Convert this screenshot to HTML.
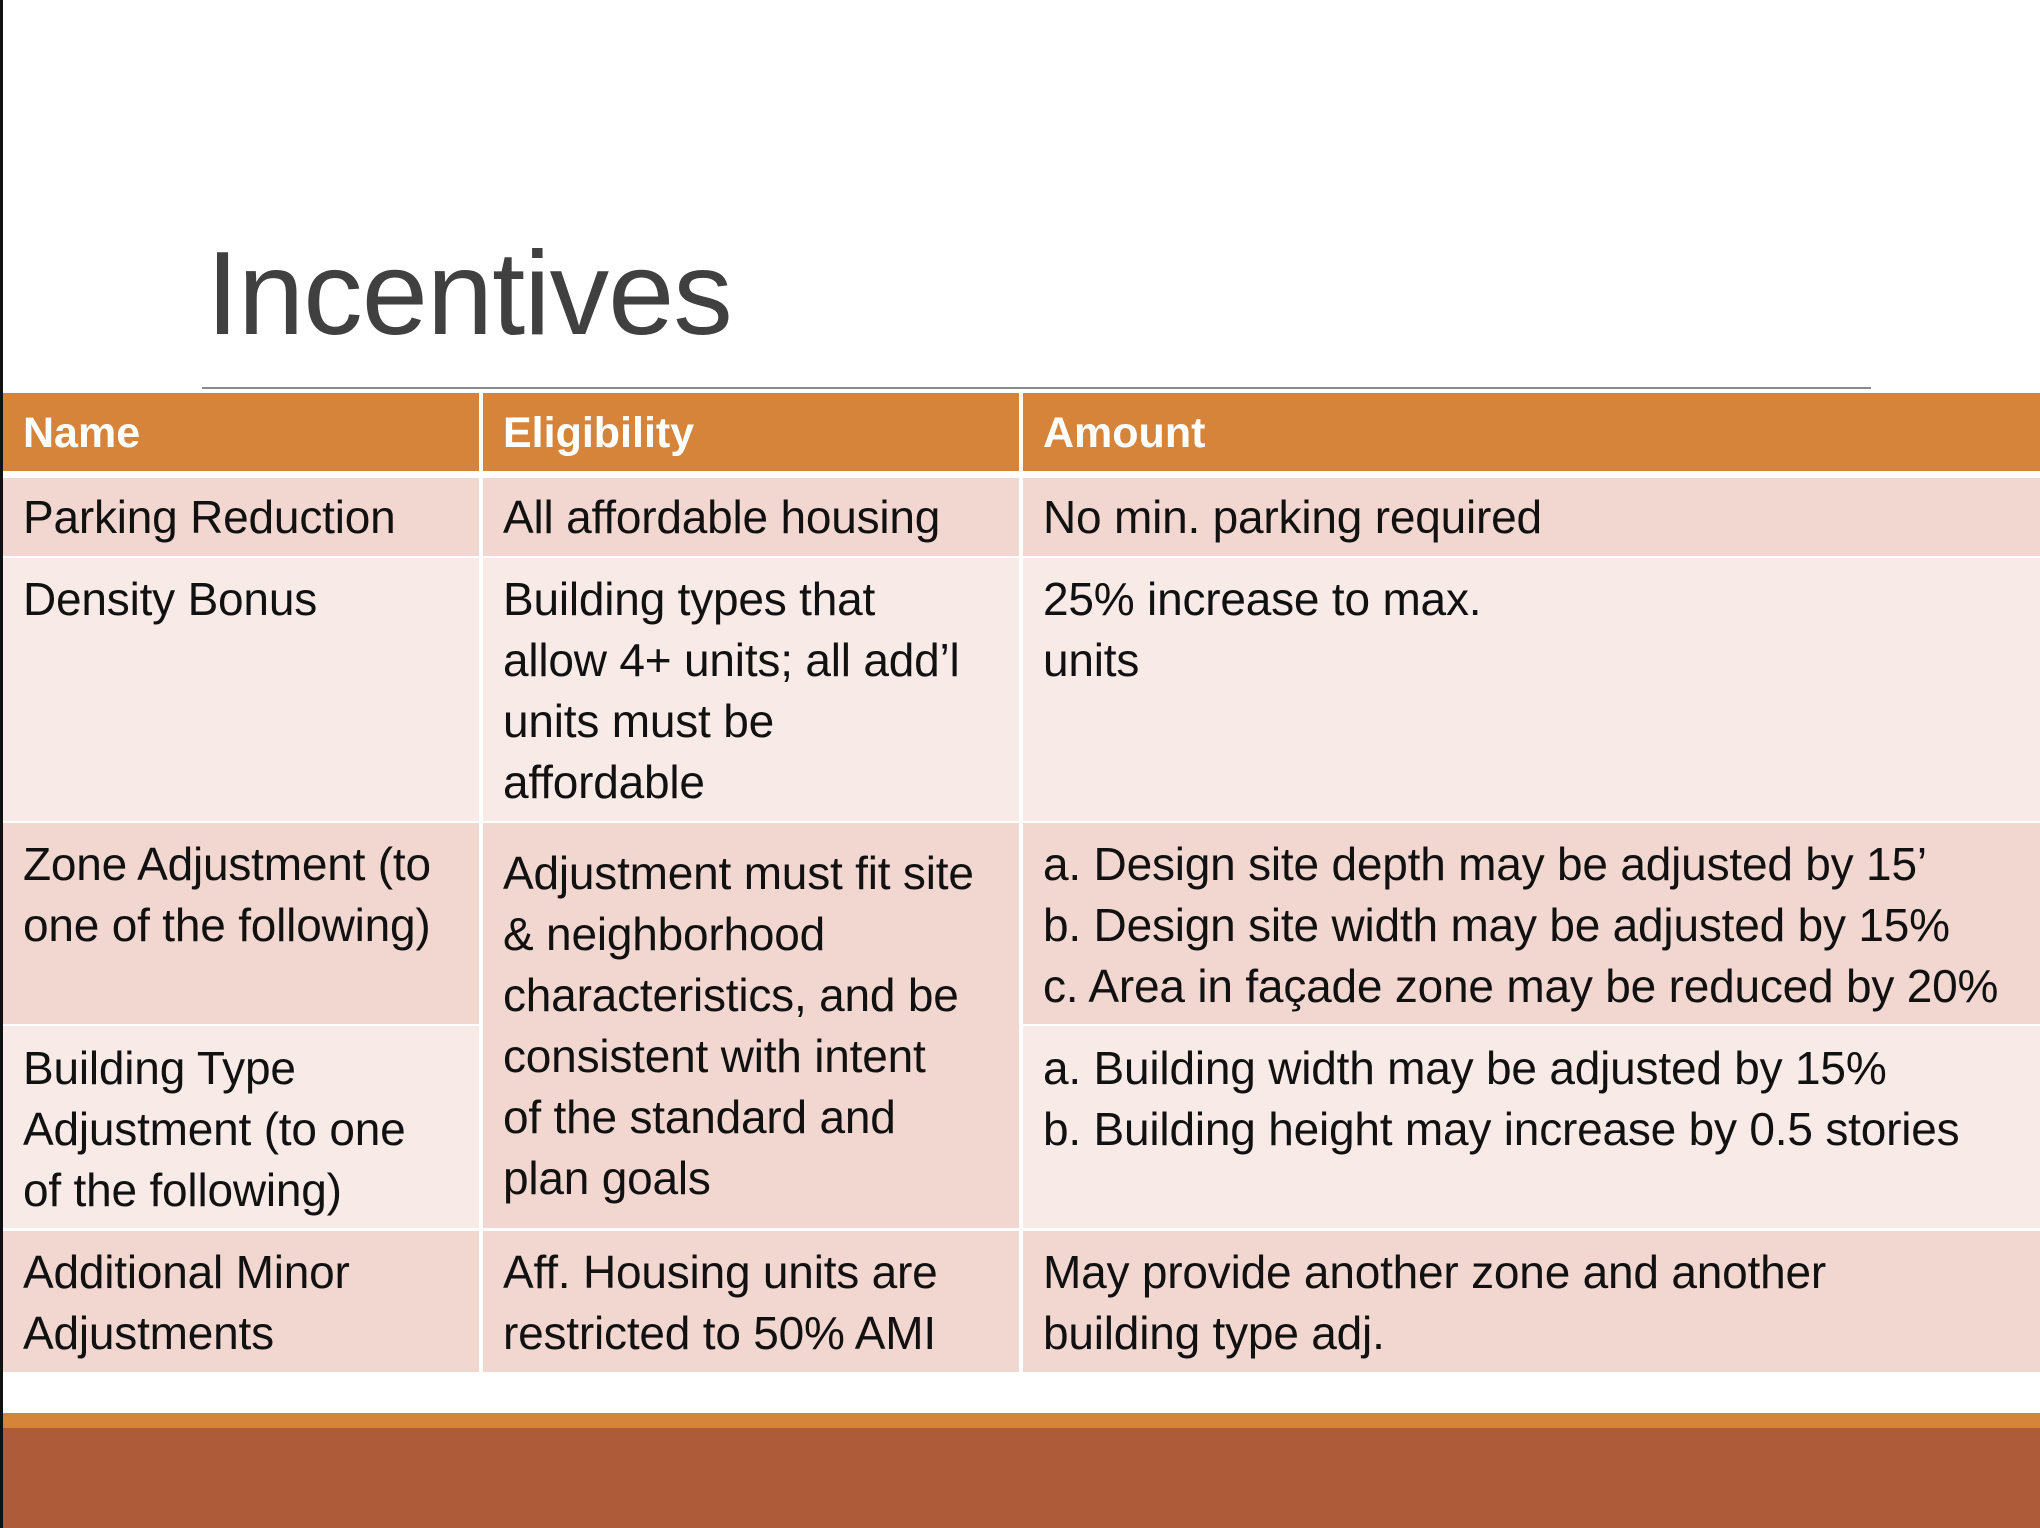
<!DOCTYPE html>
<html><head><meta charset="utf-8"><style>
body{margin:0;width:2040px;height:1528px;overflow:hidden;background:#fff;position:relative;font-family:"Liberation Sans",sans-serif}
.a{position:absolute}
.c{position:absolute;box-sizing:border-box}
.t{position:absolute;font-size:46px;line-height:61px;color:#111;white-space:nowrap;letter-spacing:-0.2px}
.h{position:absolute;font-size:43px;line-height:61px;color:#fff;font-weight:bold;white-space:nowrap}
.d{background:#F1D7CF}.l{background:#F8EAE6}
</style></head><body>
<div class="a" style="left:0;top:0;width:3px;height:1528px;background:#111"></div>
<div class="a" style="left:206px;top:234px;font-size:119px;line-height:1;color:#404040;letter-spacing:-1px">Incentives</div>
<div class="a" style="left:202px;top:387px;width:1669px;height:2px;background:#8a8a8a"></div>

<div class="c" style="left:3px;top:393px;width:2037px;height:78px;background:#D6843A"></div>
<div class="c" style="left:479px;top:393px;width:4px;height:78px;background:#fff"></div>
<div class="c" style="left:1019px;top:393px;width:4px;height:78px;background:#fff"></div>
<div class="h" style="left:23px;top:403px">Name</div>
<div class="h" style="left:503px;top:403px">Eligibility</div>
<div class="h" style="left:1043px;top:403px">Amount</div>

<div class="c d" style="left:3px;top:478px;width:476px;height:78px"></div>
<div class="c d" style="left:483px;top:478px;width:536px;height:78px"></div>
<div class="c d" style="left:1023px;top:478px;width:1017px;height:78px"></div>

<div class="c l" style="left:3px;top:558px;width:476px;height:263px"></div>
<div class="c l" style="left:483px;top:558px;width:536px;height:263px"></div>
<div class="c l" style="left:1023px;top:558px;width:1017px;height:263px"></div>

<div class="c d" style="left:3px;top:823px;width:476px;height:201px"></div>
<div class="c d" style="left:483px;top:823px;width:536px;height:405px"></div>
<div class="c d" style="left:1023px;top:823px;width:1017px;height:201px"></div>

<div class="c l" style="left:3px;top:1026px;width:476px;height:202px"></div>
<div class="c l" style="left:1023px;top:1026px;width:1017px;height:202px"></div>

<div class="c d" style="left:3px;top:1231px;width:476px;height:141px"></div>
<div class="c d" style="left:483px;top:1231px;width:536px;height:141px"></div>
<div class="c d" style="left:1023px;top:1231px;width:1017px;height:141px"></div>

<div class="t" style="left:23px;top:487px">Parking Reduction</div>
<div class="t" style="left:503px;top:487px">All affordable housing</div>
<div class="t" style="left:1043px;top:487px">No min. parking required</div>

<div class="t" style="left:23px;top:569px">Density Bonus</div>
<div class="t" style="left:503px;top:569px">Building types that<br>allow 4+ units; all add’l<br>units must be<br>affordable</div>
<div class="t" style="left:1043px;top:569px">25% increase to max.<br>units</div>

<div class="t" style="left:23px;top:834px">Zone Adjustment (to<br>one of the following)</div>
<div class="t" style="left:503px;top:843px">Adjustment must fit site<br>&amp; neighborhood<br>characteristics, and be<br>consistent with intent<br>of the standard and<br>plan goals</div>
<div class="t" style="left:1043px;top:834px">a. Design site depth may be adjusted by 15’<br>b. Design site width may be adjusted by 15%<br>c. Area in façade zone may be reduced by 20%</div>

<div class="t" style="left:23px;top:1038px">Building Type<br>Adjustment (to one<br>of the following)</div>
<div class="t" style="left:1043px;top:1038px">a. Building width may be adjusted by 15%<br>b. Building height may increase by 0.5 stories</div>

<div class="t" style="left:23px;top:1242px">Additional Minor<br>Adjustments</div>
<div class="t" style="left:503px;top:1242px">Aff. Housing units are<br>restricted to 50% AMI</div>
<div class="t" style="left:1043px;top:1242px">May provide another zone and another<br>building type adj.</div>

<div class="a" style="left:3px;top:1413px;width:2037px;height:15px;background:#D6843A"></div>
<div class="a" style="left:3px;top:1428px;width:2037px;height:100px;background:#AD5B39"></div>
</body></html>
